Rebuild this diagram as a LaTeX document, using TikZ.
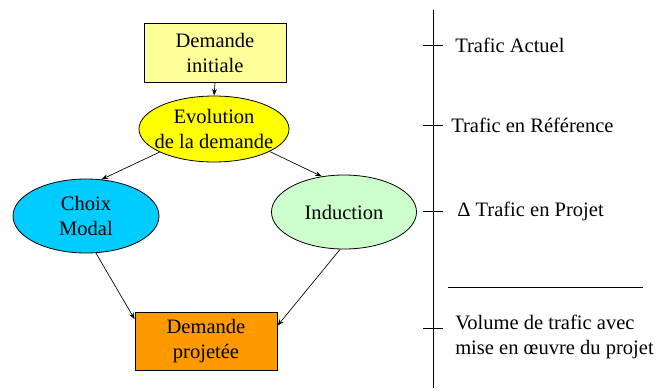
\documentclass[tikz,border=0pt]{standalone}
\usepackage{fontspec}
\setmainfont{Liberation Serif}
\definecolor{DemPale}{HTML}{FFFF99}
\definecolor{DemYellow}{HTML}{FFFF00}
\definecolor{ModalBlue}{HTML}{00CCFF}
\definecolor{InducGreen}{HTML}{CCFFCC}
\definecolor{ProjOrange}{HTML}{FF9900}
\usetikzlibrary{calc, arrows.meta, shapes.geometric}

\begin{document}
\begin{tikzpicture}[x=0.75pt, y=-0.75pt,
  txt/.style={font=\fontsize{15.4}{18.3}\selectfont, align=center, inner sep=0pt},
  boite/.style={txt, draw, line width=0.6pt, rectangle},
  bulle/.style={draw, line width=0.6pt, ellipse, inner sep=0pt,
    label={[txt]center:#1}},
  fleche/.style={-{Stealth[length=5pt, width=3.6pt]}, line width=0.5pt},
  trait/.style={line width=0.7pt}]
\useasboundingbox (0,0) rectangle (657,390);

% Diagram of demand
\node[boite, fill=DemPale, minimum width=142*0.75pt, minimum height=59*0.75pt] (init) at (215,53) {Demande\\initiale};
\node[bulle={Evolution\\de la demande}, fill=DemYellow, minimum width=150*0.75pt, minimum height=66*0.75pt] (evo) at (214,129) {};
\node[bulle={Choix\\Modal}, fill=ModalBlue, minimum width=146*0.75pt, minimum height=74*0.75pt] (modal) at (86,216) {};
\node[bulle={Induction}, fill=InducGreen, minimum width=145*0.75pt, minimum height=74*0.75pt] (induc) at (344,212) {};
\node[boite, fill=ProjOrange, minimum width=142*0.75pt, minimum height=58*0.75pt] (proj) at (206,341) {Demande\\projetée};

% Arrows
\draw[fleche] (init.south) -- (evo.north);
\draw[fleche] (evo.203) -- (modal.67);
\draw[fleche] (evo.338) -- (induc.122);
\draw[fleche] (modal.285) -- (proj.163);
\draw[fleche] (induc.264) -- (proj.12);

% Traffic scale
\coordinate (haut) at (433,10);
\coordinate (bas) at (433,388);
\draw[trait] (haut) -- (bas);
\foreach \nom/\y in {actuel/45, ref/125, delta/211, volume/328}{
  \coordinate (t-\nom) at (433,\y);
  \draw[trait] ($(t-\nom)+(-10,0)$) -- ++(20,0);
}
\coordinate (somme-g) at (448,287);
\coordinate (somme-d) at (643,287);
\draw[trait] (somme-g) -- (somme-d);

\node[txt, anchor=west] (l-actuel) at ($(t-actuel)+(22,0)$) {Trafic Actuel};
\node[txt, anchor=west] (l-ref) at ($(t-ref)+(18,0)$) {Trafic en Référence};
\node[txt, anchor=west] (l-delta) at ($(t-delta)+(24,0)$) {Δ Trafic en Projet};
\node[txt, anchor=west, align=left] (l-volume) at ($(t-volume)+(22,9)$) {Volume de trafic avec\\mise en œuvre du projet};
\end{tikzpicture}
\end{document}
